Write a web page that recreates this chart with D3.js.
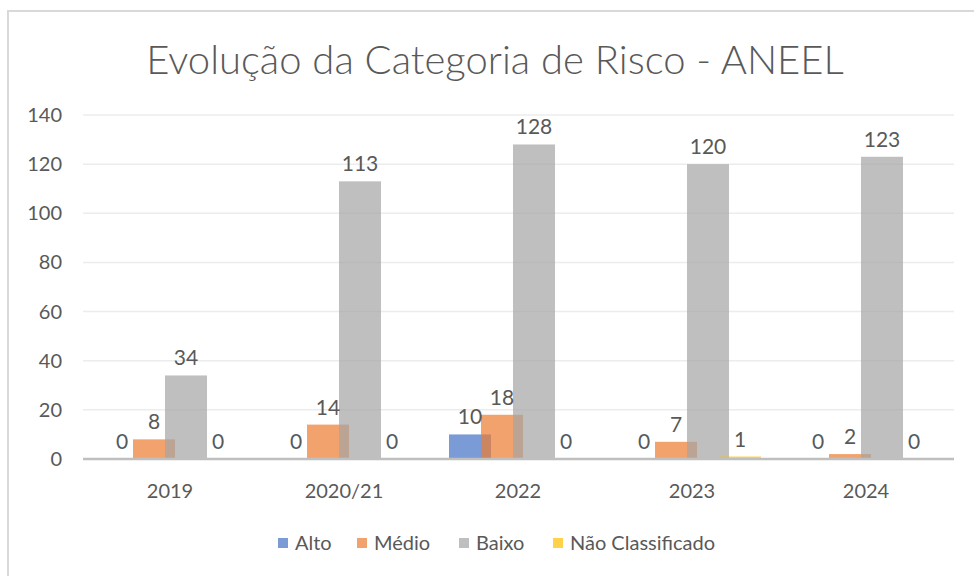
<!DOCTYPE html>
<html>
<head>
<meta charset="utf-8">
<script src="https://cdn.jsdelivr.net/npm/d3@7"></script>
<style>
  body { margin: 0; background: #fff; }
  text { font-family: Lato, "Open Sans", sans-serif; fill: #595959; }
</style>
</head>
<body>
<div id="graph"></div>
<script>
// chart values
var years = ["2019", "2020/21", "2022", "2023", "2024"];
var seriesNames = ["Alto", "Médio", "Baixo", "Não Classificado"];
var alto = [0, 0, 10, 0, 0];
var medio = [8, 14, 18, 7, 2];
var baixo = [34, 113, 128, 120, 123];
var naoClass = [0, 0, 0, 1, 0];
var yTicks = [0, 20, 40, 60, 80, 100, 120, 140];

var colors = ["#4472C4", "#ED7D31", "#A5A5A5", "#FFC000"];
var allSeries = [alto, medio, baixo, naoClass];

var width = 974, height = 576;

var svg = d3.select("#graph").append("svg")
  .attr("width", width)
  .attr("height", height);

// frame of the chart area
svg.append("path")
  .attr("d", "M8,576 L8,11 L974,11")
  .attr("fill", "none")
  .attr("stroke", "#d9d9d9")
  .attr("stroke-width", 2);

svg.append("text")
  .attr("x", 495)
  .attr("y", 74)
  .attr("text-anchor", "middle")
  .style("font-size", "40px")
  .style("font-weight", 300)
  .text("Evolução da Categoria de Risco - ANEEL");

var x = d3.scaleBand().domain(years).range([83, 953]);
var y = d3.scaleLinear().domain([0, 140]).range([459, 115]);

// horizontal gridlines
svg.append("g").selectAll("line")
  .data(yTicks.slice(1))
  .enter().append("line")
  .attr("x1", 83).attr("x2", 954)
  .attr("y1", function(d) { return y(d); })
  .attr("y2", function(d) { return y(d); })
  .attr("stroke", "#ececec")
  .attr("stroke-width", 1.5);

// y tick labels
svg.append("g").selectAll("text")
  .data(yTicks)
  .enter().append("text")
  .attr("x", 62)
  .attr("y", function(d) { return y(d) + 7; })
  .attr("text-anchor", "end")
  .style("font-size", "20px")
  .text(function(d) { return d; });

var barW = 42, step = 32;
function barX(i, s) {
  return x(years[i]) + x.bandwidth() / 2 + (s - 1.5) * step - barW / 2;
}

allSeries.forEach(function(vals, s) {
  var g = svg.append("g");
  g.selectAll("rect")
    .data(vals)
    .enter().append("rect")
    .attr("x", function(d, i) { return barX(i, s); })
    .attr("y", function(d) { return y(d); })
    .attr("width", barW)
    .attr("height", function(d) { return y(0) - y(d); })
    .attr("fill", colors[s])
    .attr("fill-opacity", 0.71);
});

// axis line
svg.append("line")
  .attr("x1", 83).attr("x2", 954)
  .attr("y1", y(0)).attr("y2", y(0))
  .attr("stroke", "#bfbfbf")
  .attr("stroke-width", 2.5);

// value labels
allSeries.forEach(function(vals, s) {
  svg.append("g").selectAll("text")
    .data(vals)
    .enter().append("text")
    .attr("x", function(d, i) { return barX(i, s) + barW / 2; })
    .attr("y", function(d) { return y(d) - 10; })
    .attr("text-anchor", "middle")
    .style("font-size", "21px")
    .text(function(d) { return d; });
});

// category labels
svg.append("g").selectAll("text")
  .data(years)
  .enter().append("text")
  .attr("x", function(d) { return x(d) + x.bandwidth() / 2; })
  .attr("y", 498)
  .attr("text-anchor", "middle")
  .style("font-size", "20px")
  .text(function(d) { return d; });

// legend
var legendX = [278, 357, 459, 553];
var legend = svg.append("g").selectAll("g")
  .data(seriesNames)
  .enter().append("g")
  .attr("transform", function(d, i) { return "translate(" + legendX[i] + ",538)"; });
legend.append("rect")
  .attr("width", 10).attr("height", 10)
  .attr("fill", function(d, i) { return colors[i]; })
  .attr("fill-opacity", 0.71);
legend.append("text")
  .attr("x", 17)
  .attr("y", 12)
  .style("font-size", "20px")
  .text(function(d) { return d; });
</script>
</body>
</html>
